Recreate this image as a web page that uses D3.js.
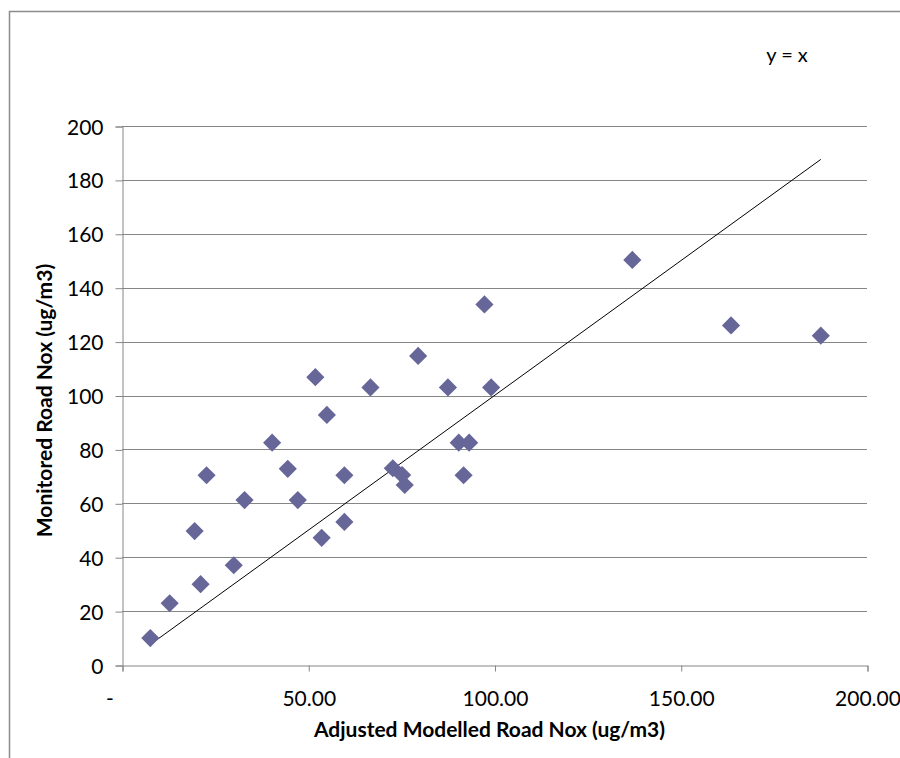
<!DOCTYPE html>
<html>
<head>
<meta charset="utf-8">
<script src="https://cdn.jsdelivr.net/npm/d3@7"></script>
<style>
  body { margin: 0; background: #fff; }
  text { font-family: Lato, "Open Sans", sans-serif; fill: #000; }
</style>
</head>
<body>
<svg id="chart" width="900" height="758"></svg>
<script>
// adjusted modelled road NOx (x) vs monitored road NOx (y), ug/m3
const modelled = [7.6, 12.8, 19.5, 21.1, 22.7, 30.0, 32.9, 40.3, 44.5, 47.2,
  51.9, 53.6, 55.0, 59.7, 59.7, 66.7, 72.7, 75.2, 75.9, 79.5,
  87.5, 90.4, 93.2, 91.7, 97.3, 99.1, 137.0, 163.5, 187.6];
const monitored = [10.0, 22.9, 49.7, 30.0, 70.4, 37.0, 61.2, 82.5, 72.8, 61.2,
  106.8, 47.2, 92.8, 70.4, 53.1, 103.0, 73.0, 70.5, 66.8, 114.7,
  103.0, 82.5, 82.5, 70.4, 133.8, 103.0, 150.3, 126.0, 122.2];
const xTicks = [0, 50, 100, 150, 200];
const yTicks = [0, 20, 40, 60, 80, 100, 120, 140, 160, 180, 200];

const points = modelled.map((x, i) => ({ x, y: monitored[i] }));

const svg = d3.select("#chart");
const gridColor = "#868686";
const plot = { left: 122, right: 867, top: 126, bottom: 665 };

// outer chart border (right and bottom are cut off in the original)
svg.append("path")
  .attr("d", "M9.5,760V11.5H905")
  .attr("fill", "none")
  .attr("stroke", "#8c8c8c")
  .attr("stroke-width", 1.5);

const x = d3.scaleLinear().domain([0, 200]).range([plot.left, plot.right]);
const y = d3.scaleLinear().domain([0, 200]).range([plot.bottom, plot.top]);

// horizontal gridlines
svg.append("g")
  .selectAll("line")
  .data(yTicks.filter((t) => t > 0))
  .enter()
  .append("line")
  .attr("x1", plot.left)
  .attr("x2", plot.right)
  .attr("y1", (t) => Math.round(y(t)) + 0.5)
  .attr("y2", (t) => Math.round(y(t)) + 0.5)
  .attr("stroke", gridColor);

const yAxis = svg.append("g")
  .attr("transform", `translate(${plot.left + 0.5},0.5)`)
  .call(d3.axisLeft(y).tickValues(yTicks).tickSize(7).tickPadding(12).tickFormat(d3.format("d")));

const xAxis = svg.append("g")
  .attr("transform", `translate(0.5,${plot.bottom + 0.5})`)
  .call(d3.axisBottom(x).tickValues(xTicks).tickSize(6).tickPadding(20)
    .tickFormat((d) => (d === 0 ? "-" : d3.format(".2f")(d))));

[yAxis, xAxis].forEach((axis) => {
  axis.select(".domain").attr("stroke", gridColor);
  axis.selectAll(".tick line").attr("stroke", gridColor);
  axis.selectAll("text").style("font-size", "21px").attr("fill", "#000");
});
xAxis.selectAll(".tick text").filter((d) => d === 0).attr("dx", -13);
yAxis.selectAll(".tick text").attr("dy", "0.36em");

// y = x reference line across the data range
const [minX, maxX] = d3.extent(modelled);
svg.append("line")
  .attr("x1", x(minX))
  .attr("y1", y(minX))
  .attr("x2", x(maxX))
  .attr("y2", y(maxX))
  .attr("stroke", "#000")
  .attr("stroke-width", 1);

svg.append("g")
  .selectAll("path")
  .data(points)
  .enter()
  .append("path")
  .attr("d", d3.symbol().type(d3.symbolSquare).size(165))
  .attr("transform", (d) => `translate(${x(d.x)},${y(d.y)}) rotate(45)`)
  .attr("fill", "#666699");

svg.append("text")
  .attr("x", 787)
  .attr("y", 62)
  .attr("text-anchor", "middle")
  .style("font-size", "20px")
  .text("y = x");

svg.append("text")
  .attr("x", (plot.left + plot.right) / 2 - 5)
  .attr("y", 737)
  .attr("text-anchor", "middle")
  .style("font-size", "21px")
  .style("font-weight", "bold")
  .text("Adjusted Modelled Road Nox (ug/m3)");

svg.append("text")
  .attr("transform", `translate(52,${(plot.top + plot.bottom) / 2 + 5}) rotate(-90)`)
  .attr("text-anchor", "middle")
  .style("font-size", "21px")
  .style("font-weight", "bold")
  .text("Monitored Road Nox (ug/m3)");
</script>
</body>
</html>
